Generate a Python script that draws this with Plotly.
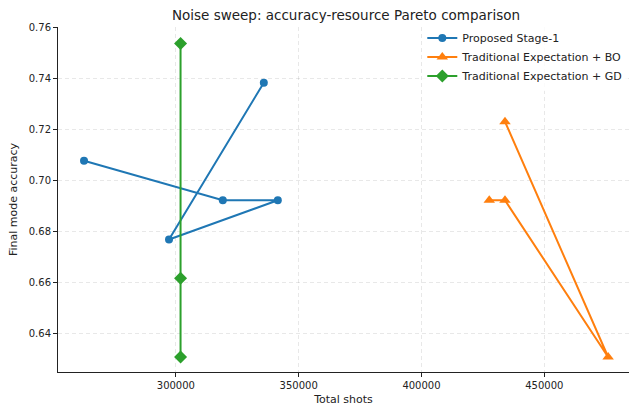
import plotly.graph_objects as go

# Total shots vs final mode accuracy for each method (in plotting order)
proposed_shots = [262600, 319100, 341500, 297200, 335800]
proposed_acc = [0.7077, 0.6922, 0.6922, 0.6768, 0.7384]

bo_shots = [427600, 434000, 476000, 434000]
bo_acc = [0.6922, 0.6922, 0.6306, 0.7231]

gd_shots = [301900, 301900, 301900]
gd_acc = [0.7538, 0.6306, 0.6615]

x_ticks = [300000, 350000, 400000, 450000]
y_ticks = [0.64, 0.66, 0.68, 0.70, 0.72, 0.74, 0.76]

FONT = "DejaVu Sans"

fig = go.Figure()
fig.add_trace(go.Scatter(
    x=proposed_shots, y=proposed_acc, mode="lines+markers",
    name="Proposed Stage-1",
    line=dict(color="#1f77b4", width=2),
    marker=dict(symbol="circle", size=8, color="#1f77b4"),
))
fig.add_trace(go.Scatter(
    x=bo_shots, y=bo_acc, mode="lines+markers",
    name="Traditional Expectation + BO",
    line=dict(color="#ff7f0e", width=2),
    marker=dict(symbol="triangle-up", size=10, color="#ff7f0e"),
))
fig.add_trace(go.Scatter(
    x=gd_shots, y=gd_acc, mode="lines+markers",
    name="Traditional Expectation + GD",
    line=dict(color="#2ca02c", width=2),
    marker=dict(symbol="diamond", size=10, color="#2ca02c"),
))

axis_common = dict(
    showline=True, linecolor="#222222", linewidth=1,
    ticks="outside", ticklen=4, tickcolor="#222222",
    showgrid=True, gridcolor="rgba(0,0,0,0.09)", griddash="4px,3px", gridwidth=1,
    zeroline=False, tickfont=dict(size=10, color="#222222"),
    mirror=False,
)

fig.update_layout(
    width=629, height=409,
    margin=dict(l=58, r=0, t=27, b=37),
    paper_bgcolor="white", plot_bgcolor="white",
    font=dict(family=FONT, color="#222222"),
    title=dict(text="Noise sweep: accuracy-resource Pareto comparison",
               x=0.55, xanchor="center", y=0.962, yanchor="middle",
               font=dict(size=13.5, color="#222222")),
    xaxis=dict(range=[252000, 484500], tickvals=x_ticks,
               ticktext=[str(v) for v in x_ticks],
               title=dict(text="Total shots", font=dict(size=11), standoff=5),
               **axis_common),
    yaxis=dict(range=[0.6247, 0.7603], tickvals=y_ticks,
               ticktext=[f"{v:.2f}" for v in y_ticks],
               title=dict(text="Final mode accuracy", font=dict(size=11), standoff=8),
               **axis_common),
    legend=dict(x=0.638, y=1.01, xanchor="left", yanchor="top",
                bgcolor="rgba(255,255,255,0.8)", font=dict(size=11),
                itemwidth=30, tracegroupgap=0),
    showlegend=True,
)

fig.write_html("out.html")
